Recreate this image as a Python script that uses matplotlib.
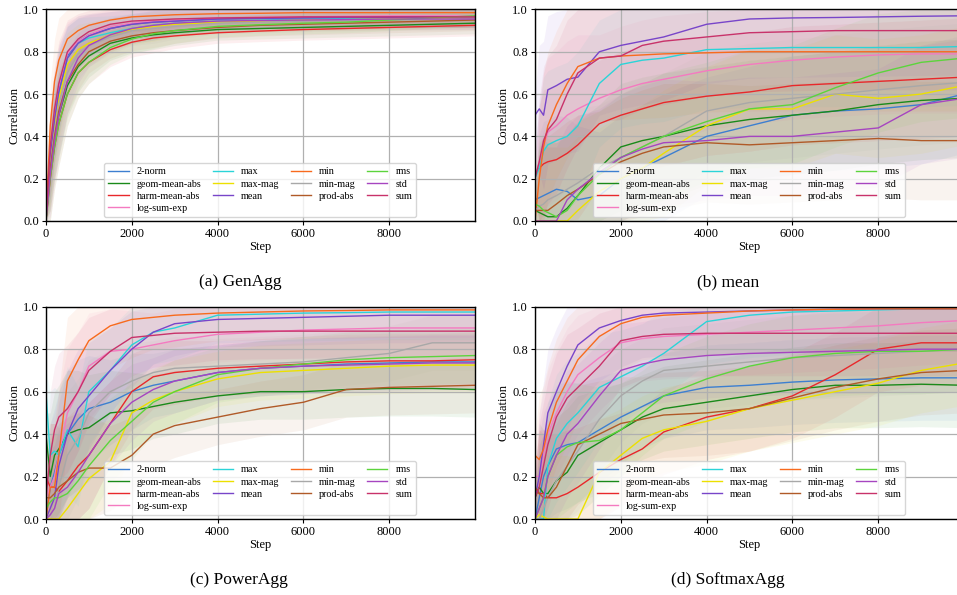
import numpy as np
import matplotlib.pyplot as plt

plt.rcParams['font.family'] = 'serif'
plt.rcParams['font.serif'] = ['Liberation Serif', 'DejaVu Serif']

steps = [0, 100, 200, 300, 500, 750, 1000, 1500, 2000, 2500, 3000,
         4000, 5000, 6000, 7000, 8000, 9000, 9990]

names = ['2-norm', 'geom-mean-abs', 'harm-mean-abs', 'log-sum-exp',
         'max', 'max-mag', 'mean', 'min', 'min-mag', 'prod-abs',
         'rms', 'std', 'sum']
colors = ['#3d7fd0', '#1a8a1a', '#e8282b', '#f47ac0',
          '#2ad4d8', '#ece000', '#7845c9', '#f86a1d', '#a8a8a8', '#b05a28',
          '#5cd43c', '#a645c0', '#c8326a']

# (a) GenAgg
genagg = {
    '2-norm':        [0, .32, .50, .63, .78, .85, .88, .91, .93, .94, .945, .955, .958, .96, .962, .965, .965, .965],
    'geom-mean-abs': [0, .25, .40, .50, .64, .73, .78, .84, .865, .88, .89, .905, .91, .915, .92, .925, .93, .935],
    'harm-mean-abs': [0, .20, .35, .46, .60, .70, .75, .81, .845, .865, .875, .89, .898, .905, .91, .915, .92, .925],
    'log-sum-exp':   [0, .33, .50, .63, .79, .85, .88, .92, .935, .945, .95, .96, .963, .965, .968, .97, .97, .97],
    'max':           [0, .30, .48, .60, .77, .84, .865, .89, .91, .925, .935, .945, .95, .955, .958, .96, .963, .965],
    'max-mag':       [0, .28, .45, .58, .74, .81, .84, .88, .905, .92, .93, .94, .945, .95, .952, .955, .958, .96],
    'mean':          [0, .30, .48, .61, .77, .84, .875, .91, .93, .94, .945, .955, .958, .96, .962, .963, .965, .965],
    'min':           [0, .45, .66, .76, .86, .90, .925, .95, .965, .97, .975, .98, .982, .985, .985, .985, .985, .985],
    'min-mag':       [0, .27, .42, .55, .70, .79, .83, .87, .90, .91, .92, .935, .94, .945, .948, .95, .952, .955],
    'prod-abs':      [0, .25, .40, .52, .66, .74, .80, .85, .875, .89, .90, .915, .925, .93, .935, .94, .945, .95],
    'rms':           [0, .20, .35, .46, .60, .70, .75, .82, .86, .885, .90, .92, .928, .935, .94, .95, .96, .97],
    'std':           [0, .22, .38, .50, .66, .77, .83, .88, .91, .925, .935, .945, .948, .95, .952, .955, .955, .955],
    'sum':           [0, .35, .53, .65, .80, .86, .895, .93, .945, .95, .955, .96, .962, .965, .965, .965, .965, .965],
}
genagg_spread = [0, .2, .2, .2, .15, .12, .1, .08, .07, .07, .06, .05, .05, .05, .05, .05, .05, .05]

# (b) mean
meanagg = {
    '2-norm':        [.10, .11, .12, .13, .15, .14, .10, .12, .20, .25, .30, .40, .45, .50, .52, .53, .55, .60],
    'geom-mean-abs': [.05, .04, .03, .02, .02, .06, .12, .25, .35, .38, .40, .45, .48, .50, .52, .55, .57, .58],
    'harm-mean-abs': [.22, .25, .27, .28, .29, .32, .36, .46, .50, .53, .56, .59, .61, .64, .65, .66, .67, .68],
    'log-sum-exp':   [.20, .28, .35, .42, .45, .50, .53, .58, .62, .65, .67, .71, .74, .76, .775, .785, .79, .79],
    'max':           [.20, .25, .33, .36, .38, .40, .45, .65, .74, .76, .77, .81, .815, .82, .82, .82, .82, .825],
    'max-mag':       [0, 0, 0, 0, 0, 0, .05, .14, .20, .25, .32, .45, .53, .53, .60, .58, .60, .64],
    'mean':          [.50, .53, .50, .62, .64, .67, .68, .80, .83, .85, .87, .93, .955, .96, .962, .965, .968, .97],
    'min':           [0, .20, .35, .45, .55, .65, .73, .77, .78, .785, .79, .795, .80, .80, .80, .80, .80, .80],
    'min-mag':       [.05, .07, .08, .10, .12, .15, .18, .25, .30, .35, .40, .52, .56, .58, .60, .62, .64, .655],
    'prod-abs':      [.05, .05, .05, .05, .08, .12, .15, .22, .28, .32, .35, .37, .36, .37, .38, .39, .38, .38],
    'rms':           [.08, .07, .05, .04, .02, .05, .12, .22, .30, .35, .40, .47, .53, .55, .63, .70, .75, .77],
    'std':           [0, 0, 0, 0, 0, .10, .15, .23, .30, .34, .37, .38, .40, .40, .42, .44, .55, .58],
    'sum':           [.20, .28, .38, .43, .48, .60, .70, .77, .78, .83, .85, .87, .89, .895, .90, .90, .90, .90],
}
meanagg_spread = [.1, .3, .35, .35, .35, .35, .35, .3, .3, .3, .3, .28, .28, .28, .28, .28, .28, .28]

# (c) PowerAgg
poweragg = {
    '2-norm':        [0, .15, .22, .30, .40, .47, .52, .55, .60, .63, .65, .69, .71, .72, .73, .735, .74, .74],
    'geom-mean-abs': [.40, .20, .30, .33, .40, .42, .43, .50, .51, .53, .55, .58, .60, .60, .61, .615, .615, .61],
    'harm-mean-abs': [.20, .15, .15, .13, .18, .25, .30, .45, .60, .67, .69, .71, .72, .73, .74, .745, .745, .75],
    'log-sum-exp':   [.10, .15, .20, .30, .50, .60, .72, .79, .80, .82, .84, .87, .88, .89, .895, .90, .90, .90],
    'max':           [.60, .30, .32, .30, .42, .34, .60, .70, .82, .88, .90, .96, .965, .97, .972, .975, .975, .975],
    'max-mag':       [0, 0, 0, 0, .05, .12, .19, .27, .50, .56, .60, .66, .69, .70, .71, .72, .725, .725],
    'mean':          [0, .05, .10, .25, .40, .52, .58, .70, .80, .88, .92, .94, .945, .95, .955, .96, .96, .96],
    'min':           [0, .15, .15, .30, .65, .75, .84, .91, .94, .95, .96, .97, .975, .98, .982, .985, .985, .985],
    'min-mag':       [0, .02, .05, .15, .30, .38, .50, .60, .65, .69, .71, .72, .73, .74, .76, .78, .83, .83],
    'prod-abs':      [.10, .10, .12, .15, .18, .22, .24, .24, .30, .40, .44, .48, .52, .55, .61, .62, .625, .63],
    'rms':           [.05, .08, .10, .10, .12, .18, .25, .37, .46, .55, .60, .68, .71, .73, .75, .76, .765, .77],
    'std':           [0, .02, .05, .12, .15, .22, .30, .45, .55, .61, .65, .69, .71, .72, .725, .73, .735, .735],
    'sum':           [.10, .30, .42, .48, .52, .60, .70, .79, .855, .865, .875, .88, .885, .885, .885, .885, .885, .885],
}
poweragg_spread = [.1, .3, .3, .3, .3, .28, .25, .2, .18, .15, .15, .13, .13, .13, .13, .13, .13, .13]

# (d) SoftmaxAgg
softmaxagg = {
    '2-norm':        [0, .10, .20, .25, .33, .35, .36, .42, .48, .53, .58, .62, .63, .645, .655, .66, .665, .665],
    'geom-mean-abs': [.10, .15, .12, .12, .18, .22, .30, .36, .42, .48, .52, .55, .58, .61, .63, .63, .635, .63],
    'harm-mean-abs': [.15, .12, .12, .10, .10, .12, .15, .22, .28, .33, .41, .48, .52, .58, .68, .80, .83, .83],
    'log-sum-exp':   [.20, .20, .30, .40, .50, .60, .68, .76, .83, .85, .86, .87, .88, .89, .90, .91, .925, .935],
    'max':           [0, 0, 0, .25, .38, .45, .50, .62, .67, .72, .78, .93, .96, .975, .98, .985, .99, .99],
    'max-mag':       [0, .02, .01, 0, 0, 0, 0, .22, .30, .38, .42, .46, .52, .56, .60, .64, .70, .735],
    'mean':          [.10, .20, .35, .50, .60, .72, .82, .90, .935, .96, .97, .975, .98, .985, .988, .99, .99, .99],
    'min':           [.30, .28, .33, .42, .55, .65, .75, .86, .92, .95, .96, .97, .98, .985, .988, .99, .99, .99],
    'min-mag':       [0, 0, .05, .10, .18, .25, .32, .47, .58, .65, .70, .72, .74, .76, .77, .78, .79, .80],
    'prod-abs':      [.15, .12, .10, .10, .15, .25, .35, .40, .45, .47, .49, .50, .52, .57, .62, .66, .69, .70],
    'rms':           [0, .05, .10, .20, .30, .34, .36, .37, .42, .50, .58, .66, .72, .76, .78, .79, .79, .80],
    'std':           [0, .05, .10, .20, .30, .40, .45, .58, .70, .73, .75, .77, .78, .785, .79, .795, .80, .80],
    'sum':           [.10, .15, .25, .35, .48, .57, .62, .72, .84, .86, .87, .875, .875, .875, .875, .875, .875, .875],
}
softmaxagg_spread = [.1, .3, .3, .3, .3, .3, .28, .25, .22, .2, .2, .2, .2, .2, .2, .2, .2, .2]


def draw_panel(ax, curves, spread):
    x = np.array(steps)
    s = np.array(spread)
    for name, c in zip(names, colors):
        y = np.array(curves[name])
        ax.fill_between(x, np.clip(y - s, 0, 1), np.clip(y + s, 0, 1),
                        color=c, alpha=0.07, linewidth=0)
    for name, c in zip(names, colors):
        ax.plot(x, curves[name], color=c, linewidth=1.0, label=name)
    ax.set_xlim(0, 9990)
    ax.set_ylim(0, 1.0)
    ax.set_xticks([0, 2000, 4000, 6000, 8000])
    ax.set_yticks([0.0, 0.2, 0.4, 0.6, 0.8, 1.0])
    ax.set_yticklabels(['0.0', '0.2', '0.4', '0.6', '0.8', '1.0'])
    ax.tick_params(labelsize=9, length=3, pad=2)
    ax.grid(True, color='#b0b0b0', linewidth=0.9)
    for sp in ax.spines.values():
        sp.set_linewidth(1.0)
    ax.set_xlabel('Step', fontsize=9, labelpad=1)
    ax.set_ylabel('Correlation', fontsize=9, labelpad=2)
    ax.legend(loc='lower center', ncol=4, fontsize=7.3, labelspacing=0.3,
              columnspacing=1.1, handlelength=2.0, handletextpad=0.8,
              framealpha=0.8, borderaxespad=0.4)


fig = plt.figure(figsize=(9.57, 5.95), dpi=100)
w, h = 0.448, 0.3555
ax_a = fig.add_axes([0.048, 0.6286, w, h])
ax_b = fig.add_axes([0.559, 0.6286, w, h])
ax_c = fig.add_axes([0.048, 0.1277, w, 0.3568])
ax_d = fig.add_axes([0.559, 0.1277, w, 0.3568])

draw_panel(ax_a, genagg, genagg_spread)
draw_panel(ax_b, meanagg, meanagg_spread)
draw_panel(ax_c, poweragg, poweragg_spread)
draw_panel(ax_d, softmaxagg, softmaxagg_spread)

fig.text(240 / 957, 1 - 282 / 595, '(a) GenAgg', ha='center', va='center', fontsize=12.5)
fig.text(728 / 957, 1 - 282 / 595, '(b) mean', ha='center', va='center', fontsize=12.5)
fig.text(239 / 957, 1 - 580 / 595, '(c) PowerAgg', ha='center', va='center', fontsize=12.5)
fig.text(728 / 957, 1 - 580 / 595, '(d) SoftmaxAgg', ha='center', va='center', fontsize=12.5)

fig.savefig('out.png', dpi=100)
